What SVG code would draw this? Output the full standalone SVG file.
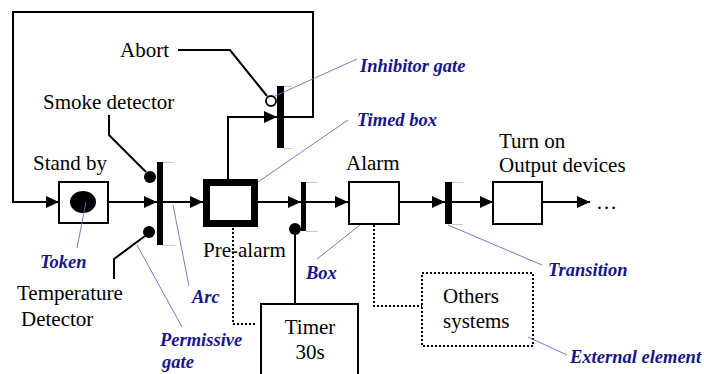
<svg xmlns="http://www.w3.org/2000/svg" width="704" height="374" viewBox="0 0 704 374">
<style>
.t{font-family:'Liberation Serif','Times New Roman',serif;font-size:21px;fill:#000}
.n{font-family:'Liberation Serif','Times New Roman',serif;font-size:18.5px;font-weight:bold;font-style:italic;fill:#16168a}
.ln{fill:none;stroke:#000;stroke-width:2}
.ld{fill:none;stroke:#6a6acc;stroke-width:0.9}
.dot{fill:none;stroke:#000;stroke-width:2;stroke-dasharray:2 2}
.box{fill:#fff;stroke:#000;stroke-width:2}
.bar{fill:#000}
.tk{stroke:#c8c8c8;stroke-width:1}
</style>
<defs>
<marker id="ah" markerUnits="userSpaceOnUse" markerWidth="14" markerHeight="12" refX="13" refY="6" orient="auto"><path d="M0,0 L13,6 L0,12 z" fill="#000"/></marker>
</defs>
<rect width="704" height="374" fill="#fff"/>

<g id="connectors">
<polyline class="ln" points="284,117 313,117 313,12 13,12 13,202 59,202" marker-end="url(#ah)"/>
<line class="ln" x1="108" y1="202" x2="157" y2="202" marker-end="url(#ah)"/>
<line class="ln" x1="163" y1="202" x2="203" y2="202" marker-end="url(#ah)"/>
<polyline class="ln" points="228,179 228,117 277,117" marker-end="url(#ah)"/>
<line class="ln" x1="258" y1="202" x2="301" y2="202" marker-end="url(#ah)"/>
<line class="ln" x1="306" y1="202" x2="348" y2="202" marker-end="url(#ah)"/>
<line class="ln" x1="399" y1="202" x2="445" y2="202" marker-end="url(#ah)"/>
<line class="ln" x1="452" y1="202" x2="493" y2="202" marker-end="url(#ah)"/>
<line class="ln" x1="542" y1="202" x2="590" y2="202" marker-end="url(#ah)"/>
<polyline class="ln" points="178,50 230,50 267,96"/>
<polyline class="ln" points="109,115 109,135 146,172"/>
<polyline class="ln" points="145,236 114,259 114,279"/>
<line class="ln" x1="295" y1="229" x2="295" y2="304"/>
<polyline class="dot" points="233,228 233,324 255,324"/>
<polyline class="dot" points="374,225 374,306 422,306"/>
</g>

<g id="standby">
<rect class="box" x="59" y="182" width="49" height="41"/>
<ellipse cx="83" cy="202" rx="13" ry="11" fill="#000"/>
<text class="t" x="33" y="170">Stand by</text>
</g>

<g id="smoke-gate">
<rect class="bar" x="157" y="162" width="6" height="83"/>
<line class="tk" x1="163" y1="162.5" x2="174" y2="162.5"/>
<line class="tk" x1="163" y1="245.5" x2="175" y2="245.5"/>
<circle cx="150" cy="177" r="6" fill="#000"/>
<circle cx="149" cy="232" r="6" fill="#000"/>
</g>

<g id="smoke-detector"><text class="t" x="43" y="109">Smoke detector</text></g>
<g id="temperature-detector">
<text class="t" x="17" y="300">Temperature</text>
<text class="t" x="21" y="326">Detector</text>
</g>

<g id="prealarm">
<rect x="206.5" y="182.5" width="48" height="41" fill="#fff" stroke="#000" stroke-width="7"/>
<text class="t" x="203" y="257">Pre-alarm</text>
</g>

<g id="inhibitor-gate">
<rect class="bar" x="277" y="86" width="7" height="62"/>
<line class="tk" x1="284" y1="86.5" x2="292" y2="86.5"/>
<line class="tk" x1="284" y1="148.5" x2="292" y2="148.5"/>
<circle cx="271" cy="101" r="5" fill="#fff" stroke="#000" stroke-width="1.8"/>
</g>
<g id="abort"><text class="t" x="120" y="57">Abort</text></g>

<g id="timer-gate">
<rect class="bar" x="301" y="182" width="5" height="49"/>
<line class="tk" x1="306" y1="182.5" x2="318" y2="182.5"/>
<line class="tk" x1="306" y1="231.5" x2="318" y2="231.5"/>
<circle cx="295" cy="229" r="6" fill="#000"/>
</g>

<g id="timer">
<rect class="box" x="261" y="304" width="97" height="80"/>
<text class="t" x="310" y="334" text-anchor="middle">Timer</text>
<text class="t" x="310" y="359" text-anchor="middle">30s</text>
</g>

<g id="alarm">
<rect class="box" x="349" y="182" width="50" height="42"/>
<text class="t" x="346" y="170">Alarm</text>
</g>

<g id="transition">
<rect class="bar" x="445" y="182" width="7" height="42"/>
<line class="tk" x1="452" y1="182.5" x2="463" y2="182.5"/>
<line class="tk" x1="452" y1="224.5" x2="463" y2="224.5"/>
</g>

<g id="output">
<rect class="box" x="493" y="182" width="49" height="42"/>
<text class="t" x="499" y="148">Turn on</text>
<text class="t" x="499" y="172">Output devices</text>
</g>
<g id="ellipsis"><text class="t" x="596" y="209">…</text></g>

<g id="others">
<rect x="422" y="273" width="111" height="73" fill="#fff" stroke="#000" stroke-width="2" stroke-dasharray="2 2"/>
<text class="t" x="443" y="303">Others</text>
<text class="t" x="443" y="328">systems</text>
</g>

<g id="annotations">
<line class="ld" x1="275" y1="96" x2="357" y2="59"/>
<text class="n" x="360" y="72">Inhibitor gate</text>
<line class="ld" x1="258" y1="182" x2="348" y2="120"/>
<text class="n" x="357" y="126">Timed box</text>
<line class="ld" x1="86" y1="202" x2="77" y2="248"/>
<text class="n" x="40" y="268">Token</text>
<line class="ld" x1="173" y1="205" x2="189" y2="286"/>
<text class="n" x="192" y="303">Arc</text>
<line class="ld" x1="137" y1="245" x2="182" y2="327"/>
<text class="n" x="160" y="346">Permissive</text>
<text class="n" x="162" y="368">gate</text>
<line class="ld" x1="317" y1="259" x2="360" y2="225"/>
<text class="n" x="306" y="279">Box</text>
<line class="ld" x1="448" y1="225" x2="542" y2="265"/>
<text class="n" x="548" y="276">Transition</text>
<line class="ld" x1="528" y1="337" x2="567" y2="355"/>
<text class="n" x="570" y="363">External element</text>
</g>
</svg>
